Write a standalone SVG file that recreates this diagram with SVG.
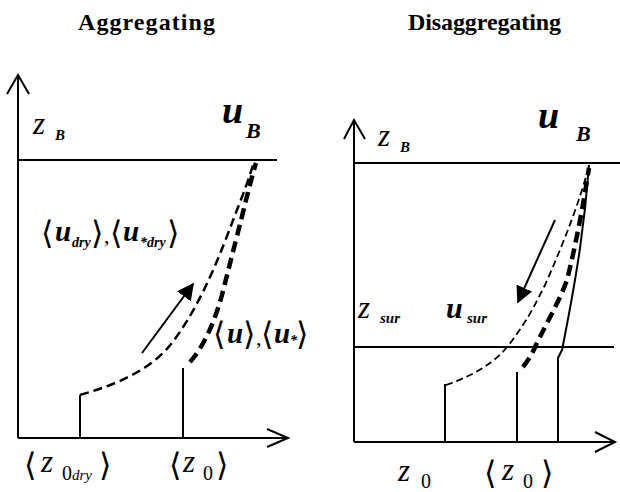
<svg xmlns="http://www.w3.org/2000/svg" width="620" height="492" viewBox="0 0 620 492">
<style>
.ax{stroke:#000;stroke-width:2;fill:none}
.ln{stroke:#000;stroke-width:2;fill:none}
.thin{stroke:#000;stroke-width:2.5;fill:none;stroke-dasharray:9 5}
.thick{stroke:#000;stroke-width:4.5;fill:none;stroke-dasharray:11 6}
.thin2{stroke:#000;stroke-width:1.8;fill:none;stroke-dasharray:7 4}
.title{font-family:"Liberation Serif",serif;font-size:24px;font-weight:bold}
.lab{font-family:"Liberation Serif",serif}
.var{font-style:italic}
.bu{font-style:italic;font-weight:bold}
.br{font-family:"DejaVu Serif","DejaVu Sans",serif;font-size:32px;font-style:normal;font-weight:normal}
</style>
<defs>
<marker id="ah" viewBox="0 0 10 10" refX="9" refY="5" markerWidth="17" markerHeight="17" markerUnits="userSpaceOnUse" orient="auto">
<path d="M0,0 L10,5 L0,10 z" fill="#000"/>
</marker>
</defs>
<rect width="620" height="492" fill="#fff"/>
<text class="title" x="78" y="30" textLength="137">Aggregating</text>
<text class="title" x="408" y="30" textLength="153">Disaggregating</text>

<g id="left-axes">
<path class="ax" d="M18,438 V76 M7,94 L18,75 L29,94"/>
<path class="ax" d="M18,438 H287 M267,429 L288,438 L267,447"/>
<path class="ln" d="M18,160 H277"/>
</g>
<g id="left-curves">
<path class="thin" d="M80,395 C122,383 152,368 172,343 C202,303 220,255 235,215 C245,190 250,175 253,165"/>
<path class="thick" d="M190,362 C205,345 215,320 222,295 C232,255 240,225 246,200 C250,185 253,172 256,163"/>
<path class="ln" d="M80,395 V438 M183,368 V438"/>
<path class="ln" d="M142,353 L193,284" marker-end="url(#ah)"/>
</g>
<g id="left-labels">
<text class="lab"><tspan class="var" x="33" y="134" font-size="31">z</tspan><tspan class="bu" x="55" y="140" font-size="15">B</tspan></text>
<text class="lab"><tspan class="bu" x="222" y="123" font-size="38">u</tspan><tspan class="bu" x="246" y="138" font-size="22">B</tspan></text>

<text class="lab"><tspan class="br" x="41" y="244">⟨</tspan><tspan class="bu" x="55" y="241" font-size="29">u</tspan><tspan class="bu" x="72" y="247" font-size="14">dry</tspan><tspan class="br" x="91" y="244">⟩</tspan><tspan x="104" y="243" font-size="22">,</tspan><tspan class="br" x="110" y="244">⟨</tspan><tspan class="bu" x="123" y="241" font-size="29">u</tspan><tspan class="bu" x="140" y="247" font-size="14">*dry</tspan><tspan class="br" x="167" y="244">⟩</tspan></text>

<text class="lab"><tspan class="br" x="213" y="345">⟨</tspan><tspan class="bu" x="227" y="343" font-size="29">u</tspan><tspan class="br" x="243" y="345">⟩</tspan><tspan x="256" y="345" font-size="22">,</tspan><tspan class="br" x="261" y="345">⟨</tspan><tspan class="bu" x="274" y="343" font-size="29">u</tspan><tspan class="bu" x="290" y="345" font-size="14">*</tspan><tspan class="br" x="296" y="345">⟩</tspan></text>

<text class="lab"><tspan class="br" x="24" y="476">⟨</tspan><tspan class="var" x="41" y="472" font-size="31">z</tspan><tspan x="62" y="480" font-size="20">0</tspan><tspan class="var" x="72" y="480" font-size="15">dry</tspan><tspan class="br" x="99" y="476">⟩</tspan></text>

<text class="lab"><tspan class="br" x="169" y="476">⟨</tspan><tspan class="var" x="183" y="472" font-size="31">z</tspan><tspan x="203" y="480" font-size="20">0</tspan><tspan class="br" x="216" y="476">⟩</tspan></text>
</g>

<g id="right-axes">
<path class="ax" d="M354,442 V121 M344,139 L354,120 L365,139"/>
<path class="ax" d="M354,442 H614 M595,432 L615,442 L595,452"/>
<path class="ln" d="M354,163 H620"/>
<path class="ln" d="M354,347 H614"/>
</g>
<g id="right-curves">
<path class="thin2" d="M446,385 C475,375 495,362 507,347 C525,325 535,305 545,285 C565,240 580,200 589,166"/>
<path class="thick" d="M523,367 C530,358 533,352 536,345 C548,320 560,300 567,280 C577,240 584,200 589,168"/>
<path class="ln" d="M589,165 C585,220 578,270 562,350 L558,358 L558,442"/>
<path class="ln" d="M445,384 V442 M517,372 V442"/>
<path class="ln" d="M555,220 L518,302" marker-end="url(#ah)"/>
</g>
<g id="right-labels">
<text class="lab"><tspan class="var" x="378" y="146" font-size="31">z</tspan><tspan class="bu" x="400" y="152" font-size="15">B</tspan></text>
<text class="lab"><tspan class="bu" x="538" y="128" font-size="38">u</tspan><tspan class="bu" x="576" y="141" font-size="22">B</tspan></text>

<text class="lab"><tspan class="var" x="358" y="318" font-size="31">z</tspan><tspan class="bu" x="380" y="323" font-size="15">sur</tspan></text>
<text class="lab"><tspan class="bu" x="446" y="318" font-size="30">u</tspan><tspan class="bu" x="467" y="323" font-size="15">sur</tspan></text>

<text class="lab"><tspan class="var" x="398" y="481" font-size="31">z</tspan><tspan x="421" y="488" font-size="20">0</tspan></text>

<text class="lab"><tspan class="br" x="484" y="484">⟨</tspan><tspan class="var" x="502" y="480" font-size="31">z</tspan><tspan x="523" y="488" font-size="20">0</tspan><tspan class="br" x="541" y="484">⟩</tspan></text>
</g>
</svg>
